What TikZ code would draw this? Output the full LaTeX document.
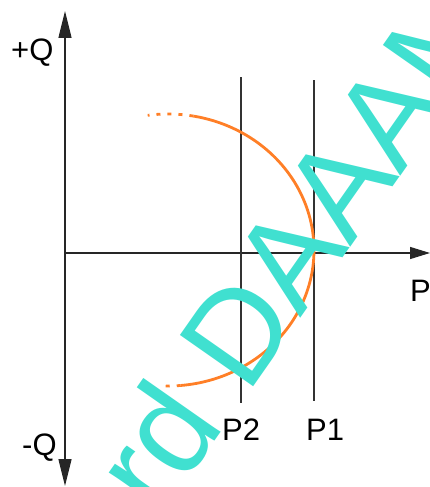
\documentclass[tikz,border=0pt]{standalone}
\usepackage{fontspec}
\setmainfont{Liberation Sans}
\usetikzlibrary{arrows.meta}
\definecolor{wmark}{RGB}{64,224,208}
\definecolor{curveorange}{RGB}{255,127,39}
\begin{document}
\begin{tikzpicture}[x=1pt,y=-1pt,
  axis/.style={line width=1.3pt,black!85},
  guide/.style={line width=1.1pt,black!80},
  lbl/.style={inner sep=0pt,anchor=base west,font=\fontsize{31}{34}\selectfont},
  arcsolid/.style={line width=2.8pt,curveorange},
  arcdot/.style={line width=2.8pt,curveorange,dash pattern=on 4pt off 7pt},
  wm/.style={inner sep=0pt,anchor=base west,rotate=55,text=wmark,font=\fontsize{130}{150}\selectfont}]
\useasboundingbox (0,0) rectangle (430,487);
% axes
\coordinate (O) at (65,253);
\coordinate (Qp) at (65,11);
\coordinate (Qm) at (65,486);
\coordinate (Pend) at (430,253);
\draw[axis,{Triangle[length=27pt,width=13pt]}-{Triangle[length=27pt,width=13pt]}] (Qm) -- (Qp);
\draw[axis,-{Triangle[length=20pt,width=12pt]}] (O) -- (Pend);
% guide lines
\coordinate (P2t) at (241,77);
\coordinate (P2b) at (241,403);
\coordinate (P1t) at (314,80);
\coordinate (P1b) at (314,401);
\draw[guide] (P2t) -- (P2b);
\draw[guide] (P1t) -- (P1b);
% labels
\node[lbl] (lQp) at (11,60) {+Q};
\node[lbl] (lQm) at (22,455) {-Q};
\node[lbl] (lP) at (410,301) {P};
\node[lbl] (lP2) at (222,440) {P2};
\node[lbl] (lP1) at (306,440) {P1};
% orange arc
\draw[arcsolid] plot[domain=80:-85,samples=90,smooth] ({168+146*cos(\x)},{250-136*sin(\x)});
\draw[arcdot] plot[domain=80:98,samples=20,smooth] ({168+146*cos(\x)},{250-136*sin(\x)});
\draw[arcdot] plot[domain=-85:-93,samples=10,smooth] ({168+146*cos(\x)},{250-136*sin(\x)});
% watermark
\begin{scope}
\clip (0,0) rectangle (430,487);
\node[wm] (wmtext) at (160,520) {rd DAAAM};
\end{scope}
\end{tikzpicture}
\end{document}
